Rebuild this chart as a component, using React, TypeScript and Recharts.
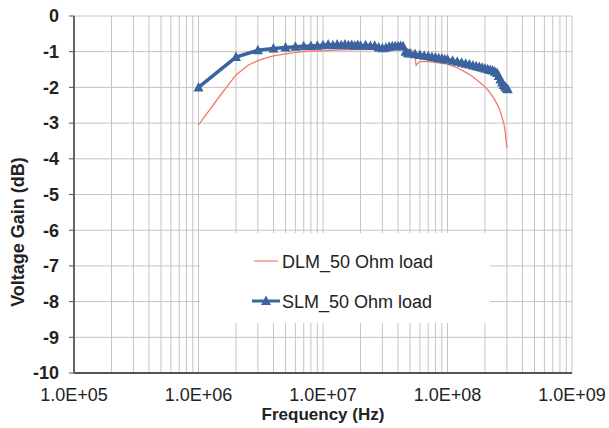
import { LineChart, Line, XAxis, YAxis, CartesianGrid } from "recharts";

const BLUE = "#3b639e";
const RED = "#f07c6c";
const FONT = "'Liberation Sans', Arial, sans-serif";

// frequency axis: decades carry labels, the rest only feed the log grid
const DECADES = [1e5, 1e6, 1e7, 1e8, 1e9];
const DECADE_LABELS = ["1.0E+05", "1.0E+06", "1.0E+07", "1.0E+08", "1.0E+09"];
const GAIN_TICKS = [0, -1, -2, -3, -4, -5, -6, -7, -8, -9, -10];

const DLM_FREQ_MHZ = [
  1, 1.5, 2, 2.5, 3, 3.5, 4, 5, 6, 7, 8, 10, 15, 20, 30, 40, 50, 54, 56, 58, 60, 70, 80, 100, 120, 140,
  160, 180, 200, 220, 240, 260, 275, 285, 292, 300,
];
const DLM_GAIN_DB = [
  -3.05, -2.22, -1.65, -1.38, -1.25, -1.17, -1.12, -1.06, -1.02, -1.0, -0.98, -0.97, -0.95, -0.94, -0.94,
  -0.94, -0.95, -0.98, -1.38, -1.32, -1.28, -1.28, -1.3, -1.35, -1.45, -1.58, -1.7, -1.85, -1.98, -2.15,
  -2.35, -2.58, -2.85, -3.05, -3.3, -3.7,
];

const SLM_FREQ_MHZ = [
  1, 2, 3, 4, 5, 6, 7, 8, 9, 10, 11, 12, 13, 14, 15, 16, 17, 18, 19, 20, 22, 24, 26, 28, 30, 32, 34, 36,
  38, 40, 42, 44, 46, 48, 50, 55, 60, 65, 70, 75, 80, 85, 90, 95, 100, 110, 120, 130, 140, 150, 160, 170,
  180, 190, 200, 210, 220, 230, 240, 250, 258, 266, 274, 282, 290, 298, 305,
];
const SLM_GAIN_DB = [
  -2.0, -1.15, -0.96, -0.91, -0.88, -0.86, -0.85, -0.84, -0.83, -0.82, -0.8, -0.82, -0.8, -0.82, -0.8,
  -0.82, -0.81, -0.83, -0.81, -0.83, -0.82, -0.84, -0.83, -0.88, -0.9, -0.89, -0.86, -0.85, -0.85, -0.85,
  -0.84, -0.85, -1.0, -1.04, -1.05, -1.07, -1.09, -1.11, -1.13, -1.15, -1.16, -1.18, -1.19, -1.21, -1.22,
  -1.25, -1.28, -1.31, -1.34, -1.36, -1.39, -1.41, -1.43, -1.45, -1.47, -1.49, -1.51, -1.53, -1.56, -1.6,
  -1.68, -1.78, -1.86, -1.93, -1.98, -2.03, -2.05,
];

const dlmData = DLM_FREQ_MHZ.map((f, i) => ({ f: f * 1e6, g: DLM_GAIN_DB[i] }));
const slmData = SLM_FREQ_MHZ.map((f, i) => ({ f: f * 1e6, g: SLM_GAIN_DB[i] }));

// 1..9 x 10^n so the grid shows log divisions
const gridFreqs: number[] = [];
for (let e = 5; e < 9; e++) for (let k = 1; k <= 9; k++) gridFreqs.push(k * 10 ** e);
gridFreqs.push(1e9);

function fmtFreq(v: number) {
  const i = DECADES.indexOf(v);
  return i >= 0 ? DECADE_LABELS[i] : "";
}

function Triangle(props: any) {
  const { cx, cy, index } = props;
  if (cx == null || cy == null) return <g key={`t-${index}`} />;
  return <path key={`t-${index}`} d={`M${cx},${cy - 5.5}L${cx + 5},${cy + 4}L${cx - 5},${cy + 4}Z`} fill={BLUE} />;
}

// legend sits inside the plot on a white patch, like the original
function LegendBox() {
  return (
    <svg width={290} height={90} style={{ position: "absolute", left: 200, top: 233, background: "#fff" }}>
      <line x1={54} x2={78} y1={28} y2={28} stroke={RED} strokeWidth={1.2} />
      <text x={82} y={34.5} fontSize={18} fontFamily={FONT} fill="#222">DLM_50 Ohm load</text>
      <line x1={52} x2={80} y1={68} y2={68} stroke={BLUE} strokeWidth={3} />
      <path d="M66,62.5L71,72L61,72Z" fill={BLUE} />
      <text x={82} y={74.5} fontSize={18} fontFamily={FONT} fill="#222">SLM_50 Ohm load</text>
    </svg>
  );
}

export default function App() {
  return (
    <div style={{ position: "absolute", left: 0, top: 0, width: 609, height: 428, background: "#fff" }}>
      <LineChart width={609} height={428} margin={{ top: 16, right: 37, left: 24, bottom: 0 }}>
        <CartesianGrid stroke="#c4c4c4" strokeWidth={1} />
        <XAxis
          type="number"
          dataKey="f"
          scale="log"
          domain={[1e5, 1e9]}
          ticks={gridFreqs}
          interval={0}
          tickFormatter={fmtFreq}
          allowDataOverflow
          height={55}
          tickLine={false}
          tickSize={5}
          tickMargin={10}
          axisLine={{ stroke: "#555", strokeWidth: 2 }}
          tick={{ fill: "#222", fontSize: 18, fontFamily: FONT }}
          label={{ value: "Frequency (Hz)", position: "insideBottom", offset: 8, fill: "#222", fontSize: 17, fontWeight: "bold", fontFamily: FONT }}
        />
        <YAxis
          type="number"
          domain={[-10, 0]}
          ticks={GAIN_TICKS}
          interval={0}
          width={50}
          tickSize={5}
          tickMargin={10}
          tickLine={{ stroke: "#555" }}
          axisLine={{ stroke: "#666", strokeWidth: 2 }}
          tick={{ fill: "#222", fontSize: 18, fontWeight: "bold", fontFamily: FONT }}
          label={{
            content: () => (
              <text transform="translate(18,232) rotate(-90)" textAnchor="middle" dominantBaseline="central" fontSize={18} fontWeight="bold" fontFamily={FONT} fill="#222">
                Voltage Gain (dB)
              </text>
            ),
          }}
        />
        <Line data={dlmData} dataKey="g" stroke={RED} strokeWidth={1.3} dot={false} isAnimationActive={false} name="DLM_50 Ohm load" />
        <Line data={slmData} dataKey="g" stroke={BLUE} strokeWidth={3.5} dot={Triangle} isAnimationActive={false} name="SLM_50 Ohm load" />
      </LineChart>
      <LegendBox />
    </div>
  );
}
